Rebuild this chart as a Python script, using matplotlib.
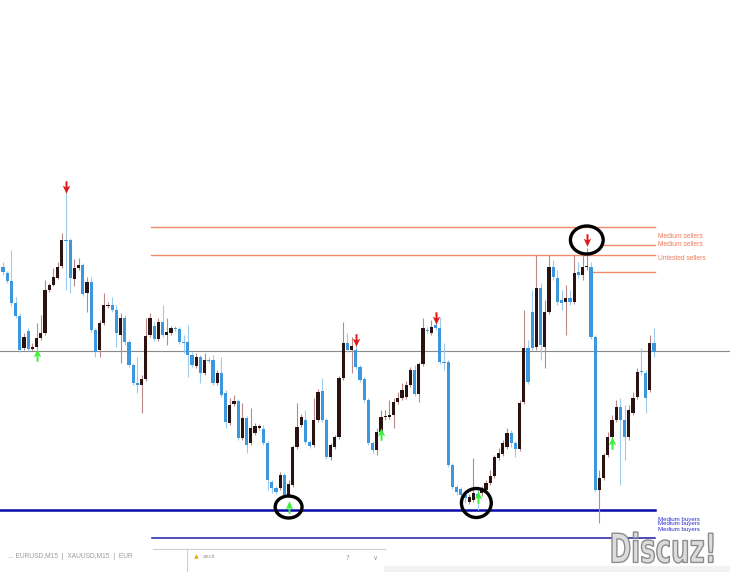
import numpy as np
import matplotlib
matplotlib.use("Agg")
import matplotlib.pyplot as plt
from matplotlib.patches import Ellipse, PathPatch, Rectangle
from matplotlib.path import Path
from matplotlib.textpath import TextPath
from matplotlib.font_manager import FontProperties
from matplotlib.transforms import Affine2D
from matplotlib.lines import Line2D

# ---------------- data (price units, M15 candles) ----------------
opens = [333,327,319,297,284,252,269,251,253,262,
         267,310,315,322,334,360,360,321,332,335,
         307,318,270,250,277,294,295,290,265,282,
         258,235,217,215,221,265,274,261,278,265,
         267,272,271,258,258,245,234,243,227,240,
         240,217,227,207,177,196,199,162,182,157,
         167,172,171,157,118,112,112,125,105,115,
         153,175,180,158,155,180,209,180,143,153,
         163,222,257,250,250,233,221,200,157,150,
         168,183,183,185,198,202,203,215,230,206,
         236,270,267,275,272,238,238,135,113,111,
         105,98,100,106,107,110,117,124,142,146,
         153,167,157,151,198,252,288,253,312,253,
         288,333,322,300,298,302,298,328,325,333,
         333,263,110,122,145,163,180,193,180,163,
         187,203,229,227,210,257]
closes = [328,319,297,284,250,263,251,253,262,267,
          310,315,323,333,360,359,322,332,335,306,
          318,270,248,277,295,295,290,267,282,258,
          235,217,215,221,264,282,261,278,265,268,
          272,271,258,257,245,235,243,227,240,239,
          217,227,205,178,195,199,162,182,155,172,
          174,174,157,120,112,108,125,105,116,153,
          173,183,158,154,180,208,180,143,155,163,
          222,257,250,254,233,220,200,157,150,168,
          183,184,185,198,202,210,215,230,206,236,
          272,269,273,272,238,237,135,113,108,105,
          102,103,107,103,112,117,124,143,147,157,
          167,157,151,197,252,218,252,312,255,288,
          333,323,298,297,302,298,327,325,333,334,
          263,110,122,145,163,180,193,180,163,190,
          202,228,228,202,257,248]
highs = [338,329,350,303,287,267,272,257,277,285,
         320,317,332,338,367,408,362,341,342,337,
         323,323,272,280,307,298,303,295,287,285,
         260,237,243,225,282,287,278,282,295,282,
         274,274,273,265,275,248,247,245,247,243,
         245,230,243,210,202,205,201,197,184,192,
         177,176,175,159,120,114,128,127,120,155,
         197,186,190,160,202,211,222,182,157,165,
         224,278,267,263,255,235,223,202,159,172,
         190,190,200,202,208,217,219,233,235,238,
         282,273,280,278,283,257,240,137,115,113,
         108,106,142,110,114,120,130,145,152,160,
         172,170,159,200,290,260,310,345,317,300,
         345,340,330,310,315,310,345,338,345,352,
         338,265,130,147,168,185,200,202,195,195,
         208,232,252,230,265,272]
lows = [325,317,294,282,248,250,249,249,251,260,
        265,308,314,321,332,310,307,314,330,304,
        288,268,243,243,275,292,288,253,237,255,
        233,215,207,187,219,263,259,259,263,255,
        265,269,256,247,223,233,232,217,225,237,
        215,215,203,172,175,194,160,160,147,155,
        165,170,155,110,107,106,110,103,103,113,
        151,173,156,152,153,178,178,141,140,151,
        161,220,248,227,231,218,198,155,147,145,
        166,180,181,172,196,200,201,213,204,198,
        234,267,265,270,236,230,133,111,105,92,
        97,96,98,90,104,108,115,122,140,144,
        151,153,143,149,196,216,250,250,240,232,
        286,320,295,290,265,295,296,322,320,330,
        261,108,77,120,143,160,178,115,140,160,
        185,201,225,187,208,243]

# signal arrows (candle number, price)
sell_candles = [16, 85, 104, 140]
sell_prices = [413, 260, 282, 360]
buy_candles = [9, 69, 91, 114, 146]
buy_prices = [245, 93, 166, 103, 157]

# highlighted signals (candle number, price, width in candles, height in price)
circle_candles = [69, 113.7, 140]
circle_prices = [93, 97, 360]
circle_w = [6.4, 7.1, 7.8]
circle_h = [22, 29, 28]

# supply / demand levels
seller_levels = [373, 355, 345, 328]
seller_from = [36.2, 143.6, 36.2, 141.5]
seller_label_text = ["Medium sellers", "Medium sellers", "Untested sellers"]
seller_label_price = [364, 355, 341]
buyer_levels = [90, 62]
buyer_from = [0.0, 36.5]
buyer_label_text = ["Medium buyers", "Medium buyers", "Medium buyers"]
buyer_label_price = [81, 76, 71]
level_to = 156.2
mid_line = 249

# ---------------- figure ----------------
W, H = 730, 572
fig = plt.figure(figsize=(W / 100, H / 100), dpi=100)
ax = fig.add_axes([0, 0, 1, 1])
ax.set_axis_off()
fig.patch.set_facecolor("white")

o = np.array(opens, float); c = np.array(closes, float)
h = np.array(highs, float); l = np.array(lows, float)
n = len(o)
x = np.arange(1, n + 1)
step = 4.2
ax.set_xlim(1 - 3 / step, 1 + (W - 3) / step)
ax.set_ylim(600 - H, 600)

BLUE = "#3b98df"
DARK = "#2b1212"
BLUE_W = "#9ccbee"
DARK_W = "#b88a8a"

bull = c >= o
ax.axhline(mid_line, color="#8a8a8a", lw=0.8, zorder=1)

for xi, hi, lo, b in zip(x, h, l, bull):
    ax.plot([xi, xi], [lo, hi], color=DARK_W if b else BLUE_W, lw=0.8,
            zorder=2, solid_capstyle="butt")
bottoms = np.minimum(o, c)
heights = np.maximum(np.abs(c - o), 1.2)
ax.bar(x, heights, bottom=bottoms, width=0.72,
       color=[DARK if b else BLUE for b in bull], linewidth=0, zorder=3)

SELL_C = "#f08a6a"
for lev, x0 in zip(seller_levels, seller_from):
    ax.plot([x0, level_to], [lev, lev], color=SELL_C, lw=1.0, zorder=1)
for txt, p in zip(seller_label_text, seller_label_price):
    ax.text(level_to + 0.7, p, txt, color="#f07a5a", fontsize=4.8,
            family="Liberation Sans", va="center", ha="left")
ax.plot([buyer_from[0] - 2, level_to], [buyer_levels[0]] * 2, color="#0a0aa8",
        lw=1.8, zorder=1)
ax.plot([buyer_from[1], level_to], [buyer_levels[1]] * 2, color="#1c1caa",
        lw=1.1, zorder=1)
for txt, p in zip(buyer_label_text, buyer_label_price):
    ax.text(level_to + 0.7, p, txt, color="#2a2ad0", fontsize=4.4,
            family="Liberation Sans", va="center", ha="left")

down_arrow = Path([(-0.16, 1.0), (0.16, 1.0), (0.16, 0.05), (0.6, 0.3),
                   (0.0, -1.0), (-0.6, 0.3), (-0.16, 0.05), (-0.16, 1.0)],
                  [Path.MOVETO] + [Path.LINETO] * 6 + [Path.CLOSEPOLY])
up_arrow = Path([(vx, -vy) for vx, vy in down_arrow.vertices], down_arrow.codes)
ax.scatter(sell_candles, sell_prices, marker=down_arrow, s=80, color="#e01818",
           linewidths=0, zorder=5)
ax.scatter(buy_candles, buy_prices, marker=up_arrow, s=80, color="#3cf03c",
           linewidths=0, zorder=5)

for cx, cy, cw, ch in zip(circle_candles, circle_prices, circle_w, circle_h):
    ax.add_patch(Ellipse((cx, cy), cw, ch, fill=False, edgecolor="black",
                         lw=2.4, zorder=6))

# ---------------- bottom status strip ----------------
def fx(px):
    return px / W

def fy(py):
    return 1 - py / H

fig.add_artist(Line2D([fx(153), fx(385)], [fy(549), fy(549)], color="#d0d0d0", lw=0.8))
fig.add_artist(Line2D([fx(187), fx(187)], [fy(549), fy(572)], color="#d0d0d0", lw=0.8))
fig.text(fx(8), fy(557), "... EURUSD,M15  |  XAUUSD,M15  |  EUR", fontsize=4.8,
         color="#9a9a9a", va="center", family="Liberation Sans")
fig.text(fx(194), fy(557), "\u25B2", fontsize=4.5, color="#e0b020", va="center")
fig.text(fx(203), fy(557), "ascii", fontsize=4.5, color="#9a9a9a", va="center",
         family="Liberation Sans")
fig.text(fx(345), fy(558), "?", fontsize=5, color="#9a9a9a", va="center")
fig.text(fx(372), fy(558), "\u2228", fontsize=5, color="#9a9a9a", va="center")
fig.add_artist(Rectangle((fx(384), 0), (W - 384) / W, (H - 566) / H,
                         facecolor="#f2f2f2", edgecolor="none", zorder=0))

tp = TextPath((0, 0), "Discuz!", size=40,
              prop=FontProperties(family="DejaVu Sans", weight="bold"))
bb = tp.get_extents()
tr = (Affine2D().translate(-bb.x0, -bb.y0)
      .scale(101 / bb.width, 31 / bb.height)
      .translate(612, H - 563)
      .scale(1 / W, 1 / H) + fig.transFigure)
fig.add_artist(PathPatch(tp, transform=tr, facecolor="#dcdcdc",
                         edgecolor="#8c8c8c", lw=1.0, zorder=10))

fig.savefig("out.png", dpi=100, facecolor="white")
